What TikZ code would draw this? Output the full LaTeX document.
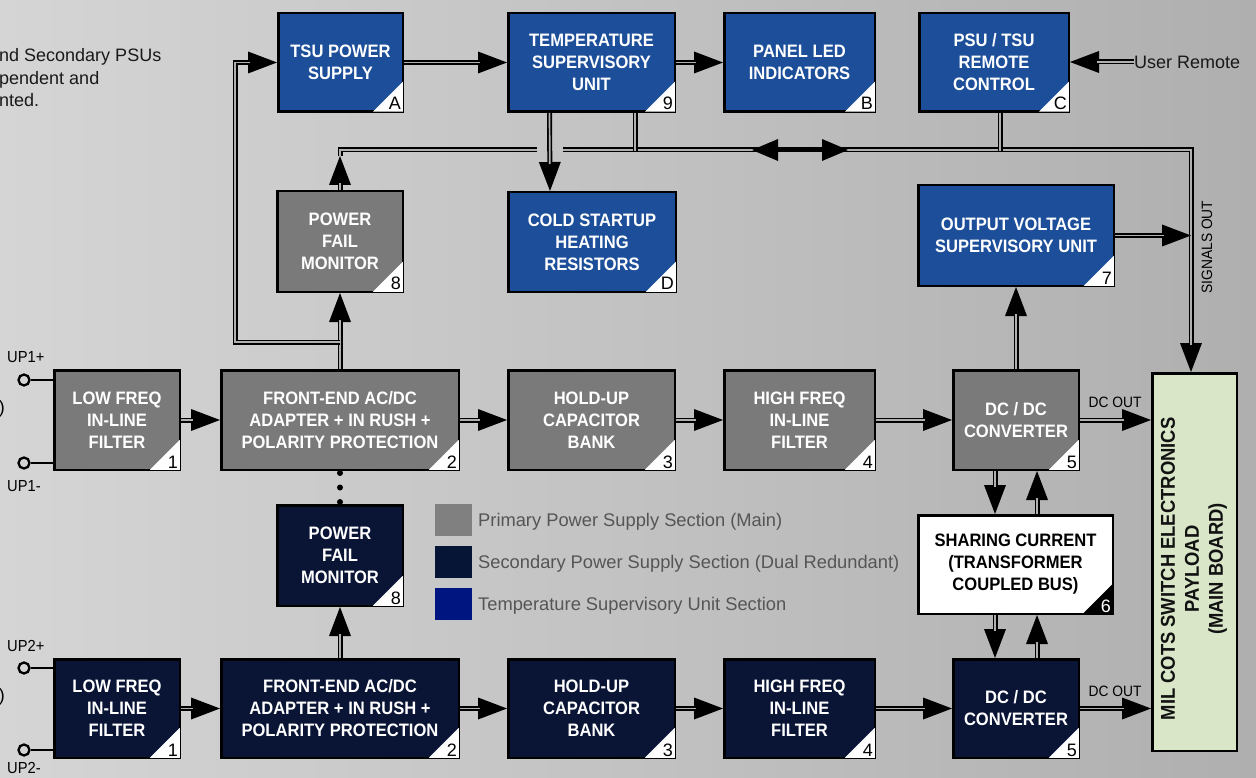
\documentclass[tikz,border=0pt]{standalone}
\usepackage{fontspec}
\setmainfont{Liberation Sans}
\newfontface\bx[FakeStretch=0.92]{Liberation Sans Bold}
\newfontfamily\cnd[FakeStretch=0.92]{Liberation Sans}
\usetikzlibrary{arrows.meta,calc}
\definecolor{tsublue}{HTML}{1C4E9A}
\definecolor{prigray}{HTML}{7A7A7A}
\definecolor{secnavy}{HTML}{0A1536}
\definecolor{legblue}{HTML}{001580}
\definecolor{leggray}{HTML}{808080}
\definecolor{legnavy}{HTML}{061535}
\definecolor{boardgreen}{HTML}{D9E7C8}
\definecolor{wirec}{HTML}{B0B0B0}
\definecolor{legtext}{HTML}{555555}
\definecolor{bgL}{HTML}{D5D5D5}
\definecolor{bgR}{HTML}{AFAFAF}
\newcommand\ctag[4]{%
  \fill[#3] ($(#1.south east)+(-1.25,-1.25)$) -- ++(-30,0) -- ++(30,-30) -- cycle;
  \node[font=\fontsize{18}{18}\selectfont, text=#4, anchor=base east, inner sep=0pt] (#1tag) at ($(#1.south east)+(-3,-3)$) {#2};
}
\begin{document}
\begin{tikzpicture}[x=1pt,y=-1pt,
  blk/.style={draw=black, line width=2.5pt, text=white, font=\bx\fontsize{18}{22}\selectfont, align=center, inner sep=0pt},
  tsub/.style={blk, fill=tsublue},
  prib/.style={blk, fill=prigray},
  secb/.style={blk, fill=secnavy},
  arr/.style={line width=5pt, draw=black, -{Triangle[length=29pt,width=22pt,line width=0pt]}, postaction={draw=wirec, line width=1.7pt, arrows=-, shorten >=27pt}},
  wire/.style={line width=5pt, draw=black, postaction={draw=wirec, line width=1.7pt}},
  term/.style={circle, draw=black, line width=2.3pt, minimum size=11pt, inner sep=0pt},
  termlbl/.style={anchor=west, font=\cnd\fontsize{16}{16}\selectfont, inner sep=0pt},
  small/.style={font=\cnd\fontsize{15}{15}\selectfont, inner sep=0pt},
  legsq/.style={minimum width=37pt, minimum height=32pt, inner sep=0pt},
  legtx/.style={anchor=west, text=legtext, font=\fontsize{18.3}{18.3}\selectfont, inner sep=0pt}
]
\useasboundingbox (0,0) rectangle (1256,778);
\shade[left color=bgL, right color=bgR] (0,0) rectangle (1256,778);

% top-left note (cut off)
\node[anchor=west, align=left, inner sep=0pt, text=black!90, font=\fontsize{18}{22.5}\selectfont] (note) at (-1,78) {nd Secondary PSUs\\pendent and\\nted.};

% ---- top row (TSU section)
\node[tsub, minimum width=124.5pt, minimum height=98.5pt] (tsu) at (340.5,62.5) {TSU POWER\\SUPPLY};
\node[tsub, minimum width=166.5pt, minimum height=98.5pt] (temp) at (591.5,62.5) {TEMPERATURE\\SUPERVISORY\\UNIT};
\node[tsub, minimum width=150.5pt, minimum height=98.5pt] (led) at (799.5,62.5) {PANEL LED\\INDICATORS};
\node[tsub, minimum width=149.5pt, minimum height=98.5pt] (rc) at (994,62.5) {PSU / TSU\\REMOTE\\CONTROL};

% ---- second row
\node[prib, minimum width=125.5pt, minimum height=100.5pt] (pfm1) at (340,241.5) {POWER\\FAIL\\MONITOR};
\node[tsub, minimum width=167.5pt, minimum height=99.5pt] (cold) at (592,242) {COLD STARTUP\\HEATING\\RESISTORS};
\node[tsub, minimum width=195.5pt, minimum height=100.5pt] (ovsu) at (1016,235.5) {OUTPUT VOLTAGE\\SUPERVISORY UNIT};

% ---- primary row
\node[prib, minimum width=125.5pt, minimum height=99.5pt] (lf1) at (117,420) {LOW FREQ\\IN-LINE\\FILTER};
\node[prib, minimum width=237.5pt, minimum height=99.5pt] (fe1) at (340,420) {FRONT-END AC/DC\\ADAPTER + IN RUSH +\\POLARITY PROTECTION};
\node[prib, minimum width=166.5pt, minimum height=99.5pt] (hu1) at (591.5,420) {HOLD-UP\\CAPACITOR\\BANK};
\node[prib, minimum width=150.5pt, minimum height=99.5pt] (hf1) at (799.5,420) {HIGH FREQ\\IN-LINE\\FILTER};
\node[prib, minimum width=125.5pt, minimum height=99.5pt] (dc1) at (1016,420) {DC / DC\\CONVERTER};

% ---- sharing + secondary PFM
\node[blk, fill=white, text=black, minimum width=194.5pt, minimum height=98.5pt] (share) at (1015.5,564.5) {SHARING CURRENT\\(TRANSFORMER\\COUPLED BUS)};
\node[secb, minimum width=125.5pt, minimum height=100.5pt] (pfm2) at (340,555.5) {POWER\\FAIL\\MONITOR};

% ---- secondary row
\node[secb, minimum width=125.5pt, minimum height=98.5pt] (lf2) at (117,708.5) {LOW FREQ\\IN-LINE\\FILTER};
\node[secb, minimum width=237.5pt, minimum height=98.5pt] (fe2) at (340,708.5) {FRONT-END AC/DC\\ADAPTER + IN RUSH +\\POLARITY PROTECTION};
\node[secb, minimum width=166.5pt, minimum height=98.5pt] (hu2) at (591.5,708.5) {HOLD-UP\\CAPACITOR\\BANK};
\node[secb, minimum width=150.5pt, minimum height=98.5pt] (hf2) at (799.5,708.5) {HIGH FREQ\\IN-LINE\\FILTER};
\node[secb, minimum width=125.5pt, minimum height=98.5pt] (dc2) at (1016,708.5) {DC / DC\\CONVERTER};

% ---- main board
\node[draw=black, line width=2.5pt, fill=boardgreen, minimum width=84.5pt, minimum height=377.5pt, inner sep=0pt] (board) at (1194.5,562) {};
\node[rotate=90, align=center, font=\bx\fontsize{20}{24}\selectfont, text=black!93, inner sep=0pt] (boardtxt) at (1194,569) {MIL COTS SWITCH ELECTRONICS\\PAYLOAD\\(MAIN BOARD)};

% ---- corner tags
\ctag{tsu}{A}{white}{black}
\ctag{temp}{9}{white}{black}
\ctag{led}{B}{white}{black}
\ctag{rc}{C}{white}{black}
\ctag{pfm1}{8}{white}{black}
\ctag{cold}{D}{white}{black}
\ctag{ovsu}{7}{white}{black}
\ctag{lf1}{1}{white}{black}
\ctag{fe1}{2}{white}{black}
\ctag{hu1}{3}{white}{black}
\ctag{hf1}{4}{white}{black}
\ctag{dc1}{5}{white}{black}
\ctag{share}{6}{black}{white}
\ctag{pfm2}{8}{white}{black}
\ctag{lf2}{1}{white}{black}
\ctag{fe2}{2}{white}{black}
\ctag{hu2}{3}{white}{black}
\ctag{hf2}{4}{white}{black}
\ctag{dc2}{5}{white}{black}

% ---- legend
\node[legsq, fill=leggray] (lg1) at (453.5,520) {};
\node[legsq, fill=legnavy] (lg2) at (453.5,562) {};
\node[legsq, fill=legblue] (lg3) at (453.5,604) {};
\node[legtx] (lt1) at (478,522) {Primary Power Supply Section (Main)};
\node[legtx] (lt2) at (478,564) {Secondary Power Supply Section (Dual Redundant)};
\node[legtx] (lt3) at (478,606) {Temperature Supervisory Unit Section};

% ---- input terminals
\node[term] (up1p) at (24,380) {};
\node[term] (up1m) at (24,463) {};
\node[term] (up2p) at (24,668) {};
\node[term] (up2m) at (24,750) {};
\draw[line width=2.2pt] (up1p) -- (up1p -| lf1.west);
\draw[line width=2.2pt] (up1m) -- (up1m -| lf1.west);
\draw[line width=2.2pt] (up2p) -- (up2p -| lf2.west);
\draw[line width=2.2pt] (up2m) -- (up2m -| lf2.west);
\node[termlbl] (lup1p) at (7,357) {UP1+};
\node[termlbl] (lup1m) at (7,486) {UP1-};
\node[termlbl] (lup2p) at (7,646) {UP2+};
\node[termlbl] (lup2m) at (7,768) {UP2-};
\node[anchor=east, inner sep=0pt, font=\fontsize{18}{18}\selectfont] (par1) at (5,409) {)};
\node[anchor=east, inner sep=0pt, font=\fontsize{18}{18}\selectfont] (par2) at (5,697) {)};

% ---- coordinates
\coordinate (j1) at (340,342);
\coordinate (k1) at (235,342);
\coordinate (busL) at (340,150);
\coordinate (busLd) at (340,156);
\coordinate (gapL) at (537,150);
\coordinate (gapR) at (563,150);
\coordinate (busR) at (1191,150);
\coordinate (da) at (752,150);
\coordinate (db) at (848,150);

% ---- bus
\draw[wire] (busLd) -- (busL) -- (gapL);
\draw[arr] (gapR) -- (busR) -- (busR |- board.north);
\draw[wire] ($(temp.south)+(43.5,0)$) -- ($(temp.south)+(43.5,38.25)$);
\draw[wire] ($(rc.south)+(6,0)$) -- ($(rc.south)+(6,38.25)$);
\draw[line width=5pt, {Triangle[length=26pt,width=22pt,line width=0pt]}-{Triangle[length=26pt,width=22pt,line width=0pt]}] (da) -- (db);

% ---- top connectors
\draw[arr] (tsu) -- (temp);
\draw[arr] (temp) -- (led);
\node[anchor=west, inner sep=0pt, text=black!90, font=\fontsize{18}{18}\selectfont] (ur) at (1134,62) {User Remote};
\draw[arr] (ur.west) -- (rc.east |- ur.west);
\draw[arr] ($(temp.south)+(-42,0)$) -- ($(cold.north)+(-42,0)$);
\draw[arr] (pfm1.north) -- (busLd);

% ---- primary chain
\draw[arr] (lf1) -- (fe1);
\draw[arr] (fe1) -- (hu1);
\draw[arr] (hu1) -- (hf1);
\draw[arr] (hf1) -- (dc1);
\draw[arr] (dc1.east) -- (dc1.east -| board.west);
\node[small] (dco1) at (1115,402) {DC OUT};
\draw[arr] (fe1.north) -- (pfm1.south);
\draw[arr] (j1) -- (k1) |- (tsu.west);
\draw[arr] (dc1.north) -- (ovsu.south);
\draw[arr] (ovsu.east) -- (ovsu.east -| busR);
\node[small, rotate=90] (sigout) at (1207,247) {SIGNALS OUT};

% ---- sharing
\draw[arr] ($(dc1.south)+(-21,0)$) -- ($(share.north)+(-20.5,0)$);
\draw[arr] ($(share.north)+(21.5,0)$) -- ($(dc1.south)+(21,0)$);
\draw[arr] ($(share.south)+(-20.5,0)$) -- ($(dc2.north)+(-21,0)$);
\draw[arr] ($(dc2.north)+(21,0)$) -- ($(share.south)+(21.5,0)$);

% ---- secondary chain
\draw[line width=6pt, line cap=round, dash pattern=on 0pt off 14.5pt, shorten <=2pt] (fe1.south) -- (pfm2.north);
\draw[arr] (fe2.north) -- (pfm2.south);
\draw[arr] (lf2) -- (fe2);
\draw[arr] (fe2) -- (hu2);
\draw[arr] (hu2) -- (hf2);
\draw[arr] (hf2) -- (dc2);
\draw[arr] (dc2.east) -- (dc2.east -| board.west);
\node[small] (dco2) at (1115,691) {DC OUT};
\end{tikzpicture}
\end{document}
